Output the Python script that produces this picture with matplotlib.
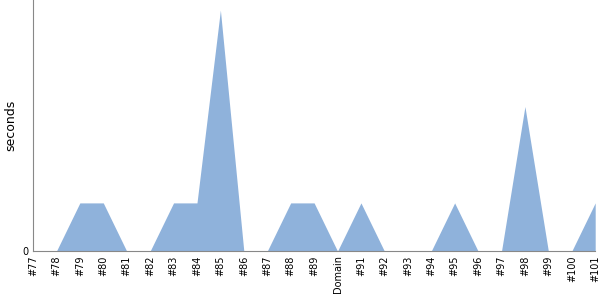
import numpy as np
import matplotlib
matplotlib.use('Agg')
import matplotlib.pyplot as plt

# Categories and timings
labels = ['#77', '#78', '#79', '#80', '#81', '#82', '#83', '#84', '#85', '#86',
          '#87', '#88', '#89', 'Domain', '#91', '#92', '#93', '#94', '#95', '#96',
          '#97', '#98', '#99', '#100', '#101']
seconds = [0, 0, 1, 1, 0, 0, 1, 1, 5, 0,
           0, 1, 1, 0, 1, 0, 0, 0, 1, 0,
           0, 3, 0, 0, 1]

x = np.arange(len(labels))

fig = plt.figure(figsize=(6, 3), dpi=100)
ax = fig.add_axes([0.055, 0.163, 0.937, 0.837])

ax.fill_between(x, seconds, 0, color='#8fb2db', linewidth=0)

ax.set_xlim(0, len(labels) - 1)
ax.set_ylim(0, 5.21)
ax.set_xticks(x)
ax.set_xticklabels(labels, rotation=90, fontsize=7)
ax.set_yticks([0])
ax.set_yticklabels(['0'], fontsize=7)
ax.tick_params(length=0, pad=3)
ax.set_ylabel('seconds', fontsize=9)

for side in ['top', 'right']:
    ax.spines[side].set_visible(False)
for side in ['left', 'bottom']:
    ax.spines[side].set_color('#888888')

fig.savefig('out.png', dpi=100)
